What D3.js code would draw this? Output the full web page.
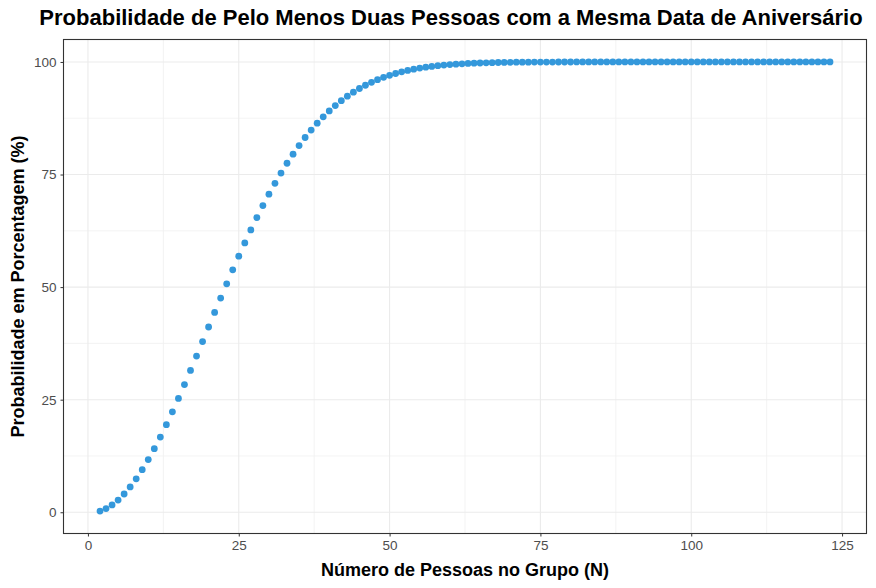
<!DOCTYPE html>
<html><head><meta charset="utf-8">
<script src="https://cdn.jsdelivr.net/npm/d3@7"></script>
<style>body{margin:0;background:#fff}svg{display:block}text{font-family:"Liberation Sans",Arial,sans-serif}</style>
</head><body><svg id="c" width="876" height="588"></svg>
<script>
const groupSize = [2,3,4,5,6,7,8,9,10,11,12,13,14,15,16,17,18,19,20,21,22,23,24,25,26,27,28,29,30,31,32,33,34,35,36,37,38,39,40,41,42,43,44,45,46,47,48,49,50,51,52,53,54,55,56,57,58,59,60,61,62,63,64,65,66,67,68,69,70,71,72,73,74,75,76,77,78,79,80,81,82,83,84,85,86,87,88,89,90,91,92,93,94,95,96,97,98,99,100,101,102,103,104,105,106,107,108,109,110,111,112,113,114,115,116,117,118,119,120,121,122,123];
const probability = [0.27,0.82,1.64,2.71,4.05,5.62,7.43,9.46,11.69,14.11,16.70,19.44,22.31,25.29,28.36,31.50,34.69,37.91,41.14,44.37,47.57,50.73,53.83,56.87,59.82,62.69,65.45,68.10,70.63,73.05,75.33,77.50,79.53,81.44,83.22,84.87,86.41,87.82,89.12,90.32,91.40,92.39,93.29,94.10,94.83,95.48,96.06,96.58,97.04,97.44,97.80,98.11,98.39,98.63,98.83,99.01,99.17,99.30,99.41,99.51,99.59,99.67,99.72,99.77,99.81,99.85,99.88,99.90,99.92,99.94,99.95,99.96,99.97,99.97,99.98,99.98,99.99,99.99,99.99,100,100,100,100,100,100,100,100,100,100,100,100,100,100,100,100,100,100,100,100,100,100,100,100,100,100,100,100,100,100,100,100,100,100,100,100,100,100,100,100,100,100,100];
const xTicks = [0,25,50,75,100,125];
const yTicks = [0,25,50,75,100];
const xMinor = [12.5,37.5,62.5,87.5,112.5];
const yMinor = [12.5,37.5,62.5,87.5];

const svg = d3.select("#c");
const L=63.5,R=866.5,T=39.5,B=533.5;
const xmin=d3.min(groupSize), xmax=d3.max(groupSize), xe=(xmax-xmin)*0.05;
const ymin=d3.min(probability), ymax=d3.max(probability), ye=(ymax-ymin)*0.05;
const x=d3.scaleLinear().domain([xmin-xe,xmax+xe]).range([L,R]);
const y=d3.scaleLinear().domain([ymin-ye,ymax+ye]).range([B,T]);

const g=svg.append("g");
g.selectAll(".mx").data(xMinor).join("line").attr("x1",d=>x(d)).attr("x2",d=>x(d)).attr("y1",T).attr("y2",B).attr("stroke","#f0f0f0").attr("stroke-width",0.8);
g.selectAll(".my").data(yMinor).join("line").attr("y1",d=>y(d)).attr("y2",d=>y(d)).attr("x1",L).attr("x2",R).attr("stroke","#f0f0f0").attr("stroke-width",0.8);
g.selectAll(".gx").data(xTicks).join("line").attr("x1",d=>x(d)).attr("x2",d=>x(d)).attr("y1",T).attr("y2",B).attr("stroke","#ebebeb").attr("stroke-width",1.1);
g.selectAll(".gy").data(yTicks).join("line").attr("y1",d=>y(d)).attr("y2",d=>y(d)).attr("x1",L).attr("x2",R).attr("stroke","#ebebeb").attr("stroke-width",1.1);

svg.append("g").selectAll("circle").data(groupSize).join("circle")
  .attr("cx",(d)=>x(d)).attr("cy",(d,i)=>y(probability[i])).attr("r",3.4).attr("fill","#3498db");

svg.append("rect").attr("x",L).attr("y",T).attr("width",R-L).attr("height",B-T).attr("fill","none").attr("stroke","#333").attr("stroke-width",1.1);

const xa=svg.append("g").attr("transform",`translate(0,${B})`).call(d3.axisBottom(x).tickValues(xTicks).tickSize(3).tickPadding(4));
const ya=svg.append("g").attr("transform",`translate(${L},0)`).call(d3.axisLeft(y).tickValues(yTicks).tickSize(3).tickPadding(4));
[xa,ya].forEach(a=>{a.select(".domain").remove();a.selectAll(".tick line").attr("stroke","#333");a.selectAll("text").attr("fill","#4d4d4d").style("font-size","13.5px").style("font-family","Liberation Sans, Arial, sans-serif");});

svg.append("text").attr("x",451).attr("y",25).attr("text-anchor","middle").style("font-size","22px").style("font-weight","bold").text("Probabilidade de Pelo Menos Duas Pessoas com a Mesma Data de Aniversário");
svg.append("text").attr("x",(L+R)/2).attr("y",576).attr("text-anchor","middle").style("font-size","18px").style("font-weight","bold").text("Número de Pessoas no Grupo (N)");
svg.append("text").attr("transform",`translate(24,${(T+B)/2}) rotate(-90)`).attr("text-anchor","middle").style("font-size","18px").style("font-weight","bold").text("Probabilidade em Porcentagem (%)");
</script></body></html>
